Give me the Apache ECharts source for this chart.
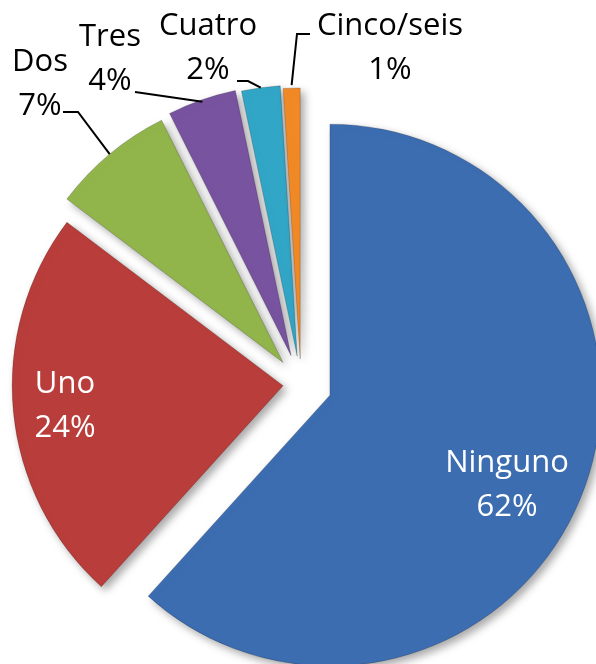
<!DOCTYPE html>
<html>
<head>
<meta charset="utf-8">
<script src="https://cdn.jsdelivr.net/npm/echarts@6/dist/echarts.min.js"></script>
<style>
html,body{margin:0;padding:0;background:#fff;}
#chart{width:596px;height:664px;}
</style>
</head>
<body>
<div id="chart"></div>
<script>
// ---- data ----
const categories = ['Ninguno', 'Uno', 'Dos', 'Tres', 'Cuatro', 'Cinco/seis'];
const values = [61.7, 23.6, 7.3, 4.1, 2.3, 1.0];

// ---- style / layout ----
const sliceColors = ['#3C6DB1', '#B93E3B', '#91B54B', '#7854A0', '#32A6C6', '#F18A26'];
const explode = [31, 18, 28, 30, 28, 25];          // per-slice explosion (px)
const insideLabel = [true, true, false, false, false, false];
const labelPos = [[507, 485], [65, 406], [40, 84], [110, 59], [208, 48], [390, 48]];
// leader line: [endDx, endDy, bendDx, bendDy] relative to label centre
const lineGeom = [null, null, [23, 28, 38, 28], [25, 33, 32, 34], [29, 33, 40, 33], [-80, -14, -93, -14]];
const PIE_CENTER = [301, 384];
const PIE_R = 271;

const chart = echarts.init(document.getElementById('chart'), null, {renderer: 'canvas'});

const sliceSeries = categories.map((_, s) => ({
  type: 'pie',
  center: PIE_CENTER,
  radius: [0, PIE_R],
  startAngle: 90,
  clockwise: true,
  silent: true,
  selectedMode: 'multiple',
  selectedOffset: explode[s],
  label: {show: false},
  labelLine: {show: false},
  emphasis: {disabled: true},
  z: 2,
  data: categories.map((name, i) => ({
    name: name,
    value: values[i],
    selected: true,
    itemStyle: i === s ? {
      color: sliceColors[i],
      borderColor: 'rgba(0,0,0,0.18)',
      borderWidth: 1,
      shadowBlur: 8,
      shadowOffsetX: 4,
      shadowOffsetY: 4,
      shadowColor: 'rgba(0,0,0,0.35)'
    } : {color: 'rgba(0,0,0,0)', borderWidth: 0, shadowBlur: 0}
  }))
}));

const labelSeries = {
  type: 'pie',
  center: PIE_CENTER,
  radius: [0, PIE_R + 28],
  startAngle: 90,
  clockwise: true,
  silent: true,
  avoidLabelOverlap: false,
  z: 5,
  emphasis: {disabled: true},
  itemStyle: {color: 'rgba(0,0,0,0)'},
  label: {
    show: true,
    formatter: p => p.name + '\n' + Math.round(p.percent) + '%',
    fontFamily: 'Open Sans',
    fontSize: 31,
    lineHeight: 44,
    overflow: 'none',
    bleedMargin: 0
  },
  labelLine: {
    show: true,
    length: 10,
    length2: 10,
    lineStyle: {color: '#000000', width: 2}
  },
  labelLayout: function (p) {
    const pos = labelPos[p.dataIndex];
    const out = {x: pos[0], y: pos[1], align: 'center', verticalAlign: 'middle', hideOverlap: false};
    const g = lineGeom[p.dataIndex];
    if (g && p.labelLinePoints) {
      out.labelLinePoints = [
        p.labelLinePoints[0],
        [pos[0] + g[2], pos[1] + g[3]],
        [pos[0] + g[0], pos[1] + g[1]]
      ];
    }
    return out;
  },
  data: categories.map((name, i) => ({
    name: name,
    value: values[i],
    label: insideLabel[i] ? {position: 'inside', color: '#ffffff'} : {position: 'outside', color: '#000000'},
    labelLine: {show: !insideLabel[i]}
  }))
};

chart.setOption({
  animation: false,
  backgroundColor: '#ffffff',
  tooltip: {show: false},
  series: sliceSeries.concat([labelSeries])
});
</script>
</body>
</html>
